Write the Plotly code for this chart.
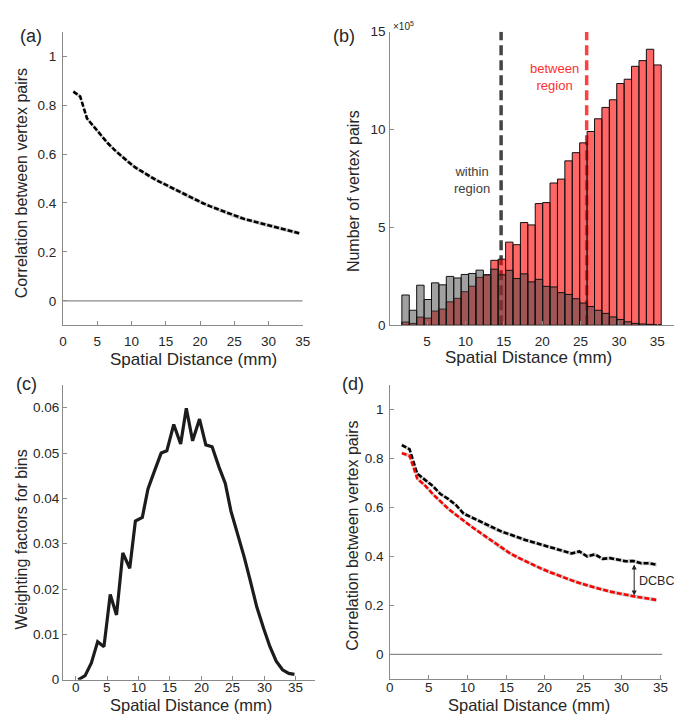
import plotly.graph_objects as go

W, H = 682, 715

# ---------------- data ----------------
# panel (a)/(d): distance bins (mm)
dist = [1.5, 2.5, 3.5, 4.5, 5.5, 6.5, 7.5, 8.5, 9.5, 10.5, 11.5, 12.5, 13.5, 14.5, 15.5, 16.5, 17.5,
        18.5, 19.5, 20.5, 21.5, 22.5, 23.5, 24.5, 25.5, 26.5, 27.5, 28.5, 29.5, 30.5, 31.5, 32.5, 33.5, 34.5]
corr_a = [0.855, 0.835, 0.745, 0.712, 0.676, 0.645, 0.617, 0.592, 0.568, 0.546, 0.528, 0.511, 0.495, 0.481,
          0.467, 0.452, 0.438, 0.424, 0.411, 0.398, 0.386, 0.375, 0.364, 0.353, 0.342, 0.334, 0.327, 0.319,
          0.312, 0.305, 0.298, 0.291, 0.284, 0.276]
corr_within = [0.855, 0.838, 0.738, 0.712, 0.688, 0.655, 0.635, 0.610, 0.575, 0.560, 0.545, 0.527, 0.514,
               0.500, 0.490, 0.477, 0.467, 0.458, 0.449, 0.441, 0.430, 0.422, 0.412, 0.420, 0.400, 0.408,
               0.390, 0.393, 0.386, 0.380, 0.381, 0.372, 0.372, 0.366]
corr_between = [0.822, 0.811, 0.718, 0.690, 0.655, 0.625, 0.595, 0.570, 0.545, 0.522, 0.500, 0.478, 0.455,
                0.432, 0.413, 0.396, 0.380, 0.365, 0.351, 0.338, 0.325, 0.313, 0.302, 0.291, 0.281, 0.272,
                0.264, 0.256, 0.249, 0.243, 0.237, 0.232, 0.227, 0.222]
band = 0.008

# panel (b): histogram bins
bin_centers = [2.20, 3.17, 4.13, 5.10, 6.06, 7.03, 7.99, 8.96, 9.93, 10.89, 11.86, 12.82, 13.79, 14.75,
               15.72, 16.68, 17.65, 18.61, 19.58, 20.55, 21.51, 22.48, 23.44, 24.41, 25.37, 26.34, 27.31,
               28.27, 29.24, 30.20, 31.17, 32.13, 33.10, 34.06, 35.03]
bin_width = 0.965
n_between = [0.17, 0.10, 0.42, 0.37, 0.73, 0.83, 1.20, 1.38, 1.72, 2.00, 2.45, 2.58, 3.32, 3.38, 4.25,
             4.12, 5.25, 5.13, 6.22, 6.27, 7.27, 7.47, 8.40, 8.82, 9.32, 9.90, 10.55, 11.13, 11.52, 12.35,
             12.57, 13.23, 13.52, 14.10, 13.30]
n_within = [1.55, 0.77, 2.05, 1.32, 2.17, 2.07, 2.50, 2.42, 2.60, 2.65, 2.82, 2.58, 2.87, 2.58, 2.81,
            2.39, 2.63, 2.22, 2.35, 1.99, 1.96, 1.67, 1.58, 1.36, 1.14, 0.96, 0.77, 0.61, 0.43, 0.30,
            0.18, 0.10, 0.07, 0.05, 0.03]
within_mean = 14.65
between_mean = 25.8

# panel (c): weighting factors
dist_c = [0.4, 1.5, 2.5, 3.5, 4.5, 5.5, 6.5, 7.5, 8.6, 9.5, 10.6, 11.5, 12.5, 13.6, 14.5, 15.6, 16.7, 17.6,
          18.6, 19.7, 20.7, 21.7, 22.8, 23.8, 24.7, 25.8, 26.8, 27.8, 28.8, 29.9, 30.9, 31.9, 32.9, 33.9, 34.8]
weights = [0.0, 0.0009, 0.0037, 0.0084, 0.0073, 0.0188, 0.0143, 0.0280, 0.0246, 0.0350, 0.0358, 0.0421,
           0.0459, 0.0500, 0.0505, 0.0563, 0.0520, 0.0599, 0.0527, 0.0575, 0.0518, 0.0514, 0.0469, 0.0433,
           0.0372, 0.0320, 0.0271, 0.0217, 0.0161, 0.0113, 0.0073, 0.0041, 0.0022, 0.0014, 0.0012]

x_ticks = [0, 5, 10, 15, 20, 25, 30, 35]

dcbc_x = 31.6
dcbc_top = 0.373
dcbc_bot = 0.240

# ---------------- figure ----------------
FONT = "Liberation Sans, Arial, sans-serif"
AXC = "#8a8a8a"
TXT = "#262626"
TICK_SIZE = 13.5


def px(x):
    return x / W


def py(y):
    return 1 - y / H


fig = go.Figure()


def axis_common(**kw):
    d = dict(showline=True, linecolor=AXC, linewidth=1, mirror=False, showgrid=False, zeroline=False,
             ticks="inside", ticklen=4, tickcolor=AXC, tickfont=dict(family=FONT, size=TICK_SIZE, color=TXT))
    d.update(kw)
    return d


layout = dict(
    width=W, height=H, margin=dict(l=0, r=0, t=0, b=0),
    paper_bgcolor="white", plot_bgcolor="white", showlegend=False,
    barmode="overlay", font=dict(family=FONT, color=TXT),
    xaxis=axis_common(domain=[px(52), px(296)], range=[0, 35], tickvals=x_ticks,
                      anchor="y", ticklabelstandoff=3),
    yaxis=axis_common(domain=[py(317), py(17)], range=[-0.1, 1.1], tickvals=[0, 0.2, 0.4, 0.6, 0.8, 1],
                      ticktext=["0", "0.2", "0.4", "0.6", "0.8", "1"], anchor="x", ticklabelstandoff=3),
    xaxis2=axis_common(domain=[px(385), px(674)], range=[0.2, 37.2], tickvals=[5, 10, 15, 20, 25, 30, 35],
                       anchor="y2", ticklabelstandoff=3),
    yaxis2=axis_common(domain=[py(317), py(17)], range=[0, 15], tickvals=[0, 5, 10, 15], anchor="x2",
                       ticklabelstandoff=1),
    xaxis3=axis_common(domain=[px(52), px(308)], range=[-2, 38], tickvals=x_ticks,
                       anchor="y3", showticklabels=False),
    yaxis3=axis_common(domain=[py(679), py(378)], range=[0, 0.065],
                       tickvals=[0, 0.01, 0.02, 0.03, 0.04, 0.05, 0.06],
                       ticktext=["0", "0.01", "0.02", "0.03", "0.04", "0.05", "0.06"], anchor="x3",
                       ticklabelstandoff=0),
    xaxis4=axis_common(domain=[px(385), px(662)], range=[0, 35.25], tickvals=x_ticks,
                       anchor="y4", showticklabels=False),
    yaxis4=axis_common(domain=[py(678), py(378)], range=[-0.1, 1.1], tickvals=[0, 0.2, 0.4, 0.6, 0.8, 1],
                       ticktext=["0", "0.2", "0.4", "0.6", "0.8", "1"], anchor="x4", ticklabelstandoff=3),
)


def curve(xs, ys, color, xa, ya):
    up = [v + band for v in ys]
    lo = [v - band for v in ys]
    fig.add_trace(go.Scatter(x=xs + xs[::-1], y=up + lo[::-1], fill="toself", fillcolor="#cfcfcf",
                             line=dict(width=0), mode="lines", hoverinfo="skip", xaxis=xa, yaxis=ya))
    fig.add_trace(go.Scatter(x=xs, y=ys, mode="lines", line=dict(color=color, width=2.6, dash="5px,2px"),
                             xaxis=xa, yaxis=ya))


# zero lines (a), (d)
fig.add_trace(go.Scatter(x=[0, 35], y=[0, 0], mode="lines", line=dict(color="#8a8a8a", width=1.2),
                         xaxis="x", yaxis="y", hoverinfo="skip"))
fig.add_trace(go.Scatter(x=[0, 35.25], y=[0, 0], mode="lines", line=dict(color="#8a8a8a", width=1.2),
                         xaxis="x4", yaxis="y4", hoverinfo="skip"))

# (a)
curve(dist, corr_a, "black", "x", "y")

# (b) bars
fig.add_trace(go.Bar(x=bin_centers, y=n_between, width=bin_width, marker=dict(color="rgba(255,0,0,0.6)",
                     line=dict(color="#111111", width=1)), xaxis="x2", yaxis="y2"))
fig.add_trace(go.Bar(x=bin_centers, y=n_within, width=bin_width, marker=dict(color="rgba(68,68,68,0.5)",
                     line=dict(color="#111111", width=1)), xaxis="x2", yaxis="y2"))

# (c)
fig.add_trace(go.Scatter(x=dist_c, y=weights, mode="lines", line=dict(color="#1c1c1c", width=3.2),
                         xaxis="x3", yaxis="y3"))

# (d)
curve(dist, corr_within, "black", "x4", "y4")
curve(dist, corr_between, "#ff0000", "x4", "y4")

shapes = [
    dict(type="line", xref="x2", yref="y2", x0=within_mean, x1=within_mean, y0=0, y1=15, layer="below",
         line=dict(color="#444444", width=3.5, dash="10px,5px")),
    dict(type="line", xref="x2", yref="y2", x0=between_mean, x1=between_mean, y0=0, y1=15, layer="below",
         line=dict(color="#ff4040", width=3.5, dash="10px,5px")),
]

ann = []


def txt(x, y, s, size, color=TXT, angle=0, xanchor="center", yanchor="middle"):
    ann.append(dict(x=px(x), y=py(y), xref="paper", yref="paper", text=s, showarrow=False, textangle=angle,
                    font=dict(family=FONT, size=size, color=color), xanchor=xanchor, yanchor=yanchor))


# x tick labels of (c) and (d), placed tight under the axis as in the original
for xr, ypix in (("x3", 687), ("x4", 687)):
    for t in x_ticks:
        ann.append(dict(x=t, y=py(ypix), xref=xr, yref="paper", text=str(t), showarrow=False,
                        font=dict(family=FONT, size=TICK_SIZE, color=TXT), yanchor="middle", borderpad=0))

# panel labels
txt(6, 21, "(a)", 18, xanchor="left")
txt(325, 21, "(b)", 18, xanchor="left")
txt(2, 377, "(c)", 18, xanchor="left")
txt(334, 377, "(d)", 18, xanchor="left")

# axis titles
txt(185, 352, "Spatial Distance (mm)", 17)
txt(526, 350, "Spatial Distance (mm)", 17)
txt(182, 705, "Spatial Distance (mm)", 16.5)
txt(526, 705, "Spatial Distance (mm)", 16.5)
txt(10, 172, "Correlation between vertex pairs", 16, angle=-90)
txt(347, 180, "Number of vertex pairs", 16, angle=-90)
txt(10, 536, "Weighting factors for bins", 16, angle=-90)
txt(347, 532, "Correlation between vertex pairs", 16, angle=-90)

# (b) extras
txt(386, 11, "×10<sup>5</sup>", 10, xanchor="left")
ann.append(dict(x=10.9, y=7.4, xref="x2", yref="y2", text="within<br>region", showarrow=False,
                font=dict(family=FONT, size=13, color="#404040")))
ann.append(dict(x=21.6, y=12.7, xref="x2", yref="y2", text="between<br>region", showarrow=False,
                font=dict(family=FONT, size=13, color="#ff3030")))

# (d) DCBC arrow
ann.append(dict(x=dcbc_x, y=dcbc_bot, ax=dcbc_x, ay=dcbc_top, xref="x4", yref="y4", axref="x4", ayref="y4",
                text="", showarrow=True, arrowhead=2, arrowsize=1, arrowwidth=1, arrowcolor="#222222",
                startarrowhead=2, arrowside="end+start", startarrowsize=1))
txt(636, 578, "DCBC", 12.5, xanchor="left")

layout["shapes"] = shapes
layout["annotations"] = ann
fig.update_layout(**layout)

fig.write_html("out.html")
